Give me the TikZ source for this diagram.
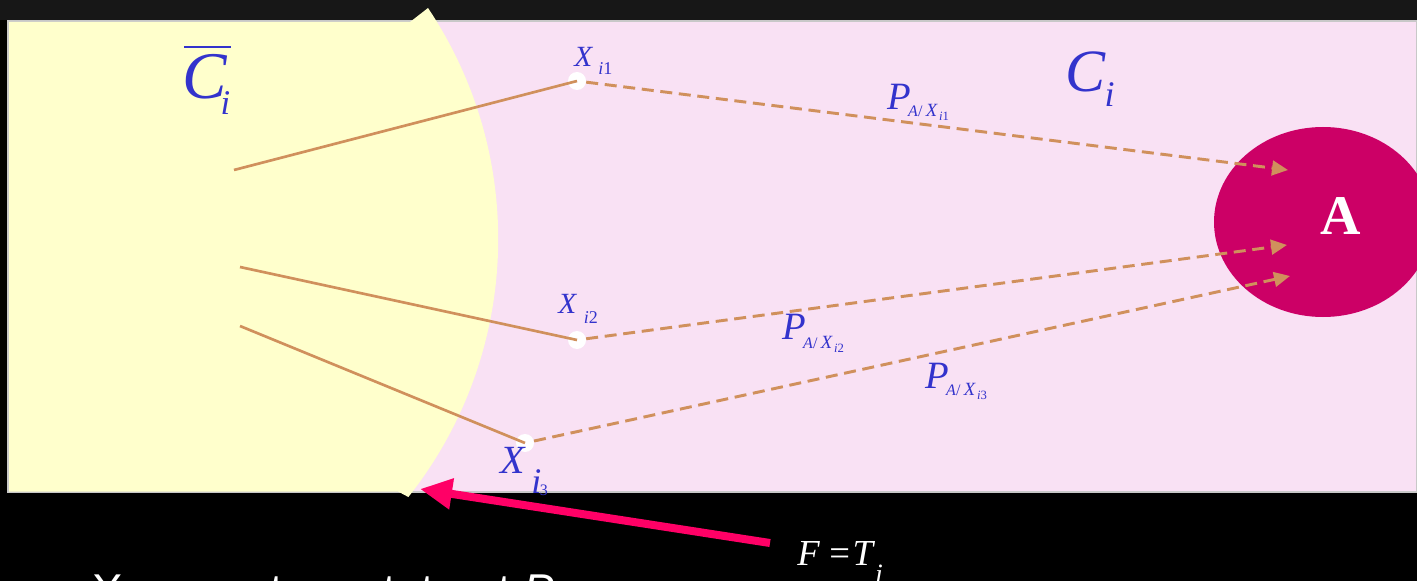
\documentclass[tikz,border=0pt]{standalone}
\usepackage{fontspec}
\setmainfont{Liberation Serif}
\newfontfamily\arialfont{Liberation Sans}
\usetikzlibrary{arrows.meta,shapes.geometric}
\definecolor{pinkbg}{RGB}{249,225,244}
\definecolor{yellowbg}{RGB}{255,255,204}
\definecolor{magentaA}{RGB}{204,0,102}
\definecolor{tanline}{RGB}{208,144,92}
\definecolor{bluetxt}{RGB}{51,51,204}
\definecolor{redarrow}{RGB}{255,0,102}
\definecolor{topstrip}{RGB}{23,23,23}
\definecolor{bordergray}{RGB}{200,200,200}
\newcommand{\fs}[1]{\fontsize{#1}{#1}\selectfont}
\newcommand{\Plabel}[2]{\fs{29}\textit{P}\hspace{-2pt}\raisebox{-#2}{\fs{12}\textit{A}/\hspace{2.5pt}{\fs{14}\textit{X}}\hspace{1pt}\raisebox{-3pt}{\fs{9.5}\textit{i}#1}}}
\begin{document}
\begin{tikzpicture}[x=0.75pt,y=-0.75pt,
  dot/.style={circle,fill=white,minimum size=13.5pt,inner sep=0pt},
  solidline/.style={draw=tanline,line width=2pt},
  dasharrow/.style={draw=tanline,line width=2.2pt,dash pattern=on 9pt off 5pt,
     -{Triangle[length=12pt,width=11pt]}},
  lbl/.style={inner sep=0pt,anchor=base west,text=bluetxt},
  wlbl/.style={inner sep=0pt,anchor=base west,text=white},
]
\useasboundingbox (0,0) rectangle (1417,581);
\clip (0,0) rectangle (1417,581);
% background
\fill[black] (0,0) rectangle (1417,581);
\fill[topstrip] (0,0) rectangle (1417,20);
\fill[pinkbg] (8,21) rectangle (1417,492);
\draw[bordergray,line width=0.8pt] (8,21) rectangle (1417,492);
% yellow region
\fill[yellowbg] (9,22) -- (410,22) -- (428,8)
  arc[start angle=33.8,end angle=-38.4,radius=311.5pt]
  -- (398,491.5) -- (9,491.5) -- cycle;
% target set A
\node[ellipse,fill=magentaA,minimum width=163.5pt,minimum height=142.5pt,inner sep=0pt] (A) at (1323,222) {};
\node[wlbl,anchor=base] (Alab) at (1341,234) {\fs{42}\bfseries A};
% points
\node[dot] (x1) at (577,81) {};
\node[dot] (x2) at (577,340) {};
\node[dot] (x3) at (525,443) {};
\coordinate (s1) at (234,170);
\coordinate (s2) at (240,267);
\coordinate (s3) at (240,326);
\coordinate (t1) at (1288,170);
\coordinate (t2) at (1287,245);
\coordinate (t3) at (1290,276);
\draw[solidline] (s1) -- (x1.center);
\draw[solidline] (s2) -- (x2.center);
\draw[solidline] (s3) -- (x3.center);
\draw[dasharrow] (x1) -- (t1);
\draw[dasharrow] (x2) -- (t2);
\draw[dasharrow] (x3) -- (t3);
% labels
\node[lbl] (Cbar) at (182,99) {\fs{50}\rlap{\hspace{1.5pt}\rule[38pt]{35pt}{1.5pt}}\textit{C}\hspace{-5pt}\raisebox{-12pt}{\fs{26}\textit{i}}};
\node[lbl] (Ci) at (1065,92) {\fs{45}\textit{C}\hspace{-1pt}\raisebox{-11pt}{\fs{27}\textit{i}}};
\node[lbl] (X1) at (574,67) {\fs{22}\textit{X}\hspace{4pt}\raisebox{-6pt}{\fs{13.5}\textit{i}1}};
\node[lbl] (X2) at (558,313) {\fs{22}\textit{X}\hspace{5pt}\raisebox{-7.5pt}{\fs{13.5}\textit{i}2}};
\node[lbl] (X3) at (500,473) {\fs{30}\textit{X}\hspace{4pt}\raisebox{-15pt}{\fs{27}\textit{i}\hspace{-1pt}\raisebox{-1.5pt}{\fs{12}3}}};
\node[lbl] (P1) at (887,110) {\Plabel{1}{5pt}};
\node[lbl] (P2) at (782,339) {\Plabel{2}{7pt}};
\node[lbl] (P3) at (925,388) {\Plabel{3}{5.5pt}};
% F = T_i
\node[wlbl] (F) at (797,565) {\fs{27.5}\textit{F}\hspace{7pt}=\hspace{2pt}\textit{T}\raisebox{-14pt}{\fs{21}\textit{i}}};
\coordinate (fstart) at (770,543);
\coordinate (ftip) at (420,489);
\draw[redarrow,line width=6pt,-{Triangle[length=24pt,width=22pt]}] (fstart) -- (ftip);
% bottom caption (cut off)
\node[wlbl] (cap) at (92,606) {\arialfont\fs{34.5}X\hspace{38pt}\textbf{:} system state at \textit{P}};
\end{tikzpicture}
\end{document}
